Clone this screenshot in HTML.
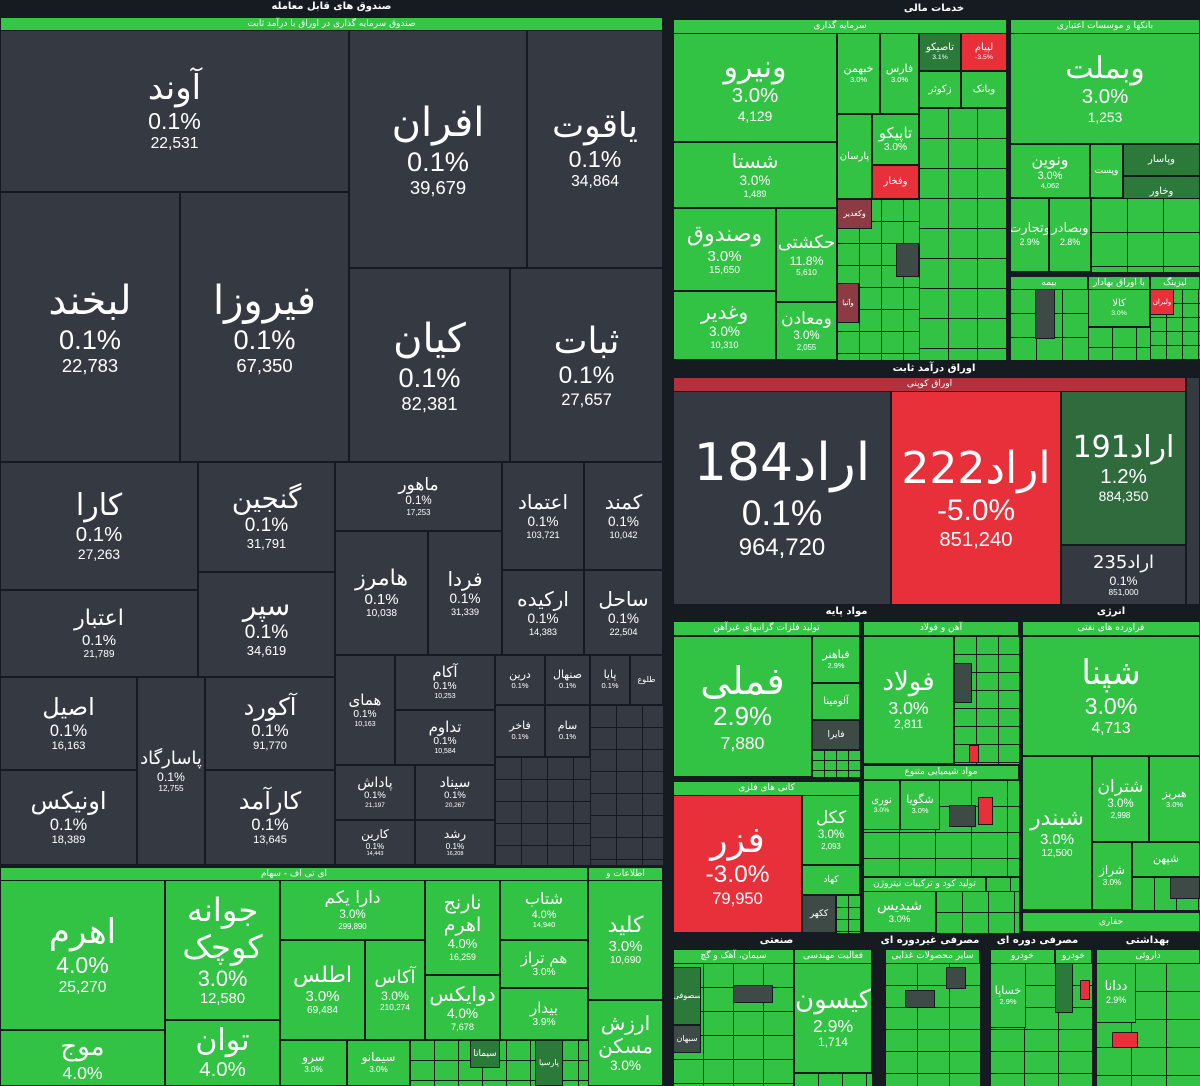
<!DOCTYPE html>
<html><head><meta charset="utf-8">
<style>
body{margin:0;background:#161b22;width:1200px;height:1086px;overflow:hidden;position:relative;font-family:"Liberation Sans","Noto Sans CJK SC",sans-serif}
.t{position:absolute;box-sizing:border-box;border:1px solid #151a21;display:flex;flex-direction:column;align-items:center;justify-content:center;color:#fff;text-align:center;line-height:1.15;overflow:hidden}
.d{background:#353a42}.g{background:#33c344}.r{background:#e8303a}.dg{background:#2b7a3a}.dd{background:#3d4a45}.rd{background:#8c3a44}
b{font-weight:normal;font-size:1em;font-family:"DejaVu Sans","Noto Sans CJK SC",sans-serif}
i{font-style:normal;font-size:.68em}
s{text-decoration:none;font-size:.46em}
.h{position:absolute;color:#fff;font-size:10px;text-align:center;line-height:14px;font-family:"DejaVu Sans",sans-serif;font-weight:bold}
.sb{position:absolute;background:#35c547;color:#fff;font-size:9px;text-align:center;line-height:13px;font-family:"DejaVu Sans",sans-serif;box-sizing:border-box;border:1px solid #151a21}
.grid{position:absolute;box-sizing:border-box;background-color:#33c344;background-image:linear-gradient(#151a21 1px,transparent 1px),linear-gradient(90deg,#151a21 1px,transparent 1px);background-size:24px 20px}
.gridd{position:absolute;box-sizing:border-box;background-color:#353a42;background-image:linear-gradient(#151a21 1px,transparent 1px),linear-gradient(90deg,#151a21 1px,transparent 1px);background-size:26px 22px}
</style></head><body>

<!-- LEFT ETF PANEL -->
<div class="h" style="left:0;top:0;width:663px">صندوق های قابل معامله</div>
<div class="sb" style="left:0;top:17px;width:663px">صندوق سرمایه گذاری در اوراق با درآمد ثابت</div>

<div class="t d" style="left:0;top:30px;width:349px;height:162px;font-size:34px"><b>آوند</b><i>0.1%</i><s>22,531</s></div>
<div class="t d" style="left:349px;top:30px;width:178px;height:238px;font-size:40px"><b>افران</b><i>0.1%</i><s>39,679</s></div>
<div class="t d" style="left:527px;top:30px;width:136px;height:238px;font-size:34px"><b>یاقوت</b><i>0.1%</i><s>34,864</s></div>
<div class="t d" style="left:0;top:192px;width:180px;height:270px;font-size:40px"><b>لبخند</b><i>0.1%</i><s>22,783</s></div>
<div class="t d" style="left:180px;top:192px;width:169px;height:270px;font-size:40px"><b>فیروزا</b><i>0.1%</i><s>67,350</s></div>
<div class="t d" style="left:349px;top:268px;width:161px;height:194px;font-size:40px"><b>کیان</b><i>0.1%</i><s>82,381</s></div>
<div class="t d" style="left:510px;top:268px;width:153px;height:194px;font-size:36px"><b>ثبات</b><i>0.1%</i><s>27,657</s></div>

<div class="t d" style="left:0;top:462px;width:198px;height:128px;font-size:30px"><b>کارا</b><i>0.1%</i><s>27,263</s></div>
<div class="t d" style="left:0;top:590px;width:198px;height:87px;font-size:22px"><b>اعتبار</b><i>0.1%</i><s>21,789</s></div>
<div class="t d" style="left:198px;top:462px;width:137px;height:110px;font-size:28px"><b>گنجین</b><i>0.1%</i><s>31,791</s></div>
<div class="t d" style="left:198px;top:572px;width:137px;height:105px;font-size:28px"><b>سپر</b><i>0.1%</i><s>34,619</s></div>
<div class="t d" style="left:335px;top:462px;width:167px;height:69px;font-size:17px"><b>ماهور</b><i>0.1%</i><s>17,253</s></div>
<div class="t d" style="left:502px;top:462px;width:82px;height:108px;font-size:20px"><b>اعتماد</b><i>0.1%</i><s>103,721</s></div>
<div class="t d" style="left:584px;top:462px;width:79px;height:108px;font-size:20px"><b>کمند</b><i>0.1%</i><s>10,042</s></div>
<div class="t d" style="left:335px;top:531px;width:93px;height:124px;font-size:22px"><b>هامرز</b><i>0.1%</i><s>10,038</s></div>
<div class="t d" style="left:428px;top:531px;width:74px;height:124px;font-size:20px"><b>فردا</b><i>0.1%</i><s>31,339</s></div>
<div class="t d" style="left:502px;top:570px;width:82px;height:85px;font-size:20px"><b>ارکیده</b><i>0.1%</i><s>14,383</s></div>
<div class="t d" style="left:584px;top:570px;width:79px;height:85px;font-size:20px"><b>ساحل</b><i>0.1%</i><s>22,504</s></div>

<div class="t d" style="left:0;top:677px;width:137px;height:93px;font-size:24px"><b>اصیل</b><i>0.1%</i><s>16,163</s></div>
<div class="t d" style="left:0;top:770px;width:137px;height:95px;font-size:24px"><b>اونیکس</b><i>0.1%</i><s>18,389</s></div>
<div class="t d" style="left:137px;top:677px;width:68px;height:188px;font-size:18px"><b>پاسارگاد</b><i>0.1%</i><s>12,755</s></div>
<div class="t d" style="left:205px;top:677px;width:130px;height:93px;font-size:24px"><b>آکورد</b><i>0.1%</i><s>91,770</s></div>
<div class="t d" style="left:205px;top:770px;width:130px;height:95px;font-size:24px"><b>کارآمد</b><i>0.1%</i><s>13,645</s></div>
<div class="t d" style="left:335px;top:655px;width:60px;height:110px;font-size:15px"><b>همای</b><i>0.1%</i><s>10,163</s></div>
<div class="t d" style="left:395px;top:655px;width:100px;height:55px;font-size:15px"><b>آکام</b><i>0.1%</i><s>10,253</s></div>
<div class="t d" style="left:395px;top:710px;width:100px;height:55px;font-size:15px"><b>تداوم</b><i>0.1%</i><s>10,584</s></div>
<div class="t d" style="left:335px;top:765px;width:80px;height:55px;font-size:14px"><b>پاداش</b><i>0.1%</i><s>21,197</s></div>
<div class="t d" style="left:415px;top:765px;width:80px;height:55px;font-size:14px"><b>سیناد</b><i>0.1%</i><s>20,267</s></div>
<div class="t d" style="left:335px;top:820px;width:80px;height:45px;font-size:12px"><b>کارین</b><i>0.1%</i><s>14,443</s></div>
<div class="t d" style="left:415px;top:820px;width:80px;height:45px;font-size:12px"><b>رشد</b><i>0.1%</i><s>16,208</s></div>
<div class="t d" style="left:495px;top:655px;width:50px;height:50px;font-size:11px"><b>درین</b><i>0.1%</i></div>
<div class="t d" style="left:545px;top:655px;width:45px;height:50px;font-size:11px"><b>صنهال</b><i>0.1%</i></div>
<div class="t d" style="left:590px;top:655px;width:40px;height:50px;font-size:11px"><b>پایا</b><i>0.1%</i></div>
<div class="t d" style="left:630px;top:655px;width:33px;height:50px;font-size:8px"><b>طلوع</b></div>
<div class="t d" style="left:495px;top:705px;width:50px;height:52px;font-size:11px"><b>فاخر</b><i>0.1%</i></div>
<div class="t d" style="left:545px;top:705px;width:45px;height:52px;font-size:11px"><b>سام</b><i>0.1%</i></div>
<div class="gridd" style="left:590px;top:705px;width:73px;height:160px"></div>
<div class="gridd" style="left:495px;top:757px;width:95px;height:108px"></div>

<!-- LEFT BOTTOM GREEN -->
<div class="sb" style="left:0;top:867px;width:588px">ای تی اف - سهام</div>
<div class="sb" style="left:588px;top:867px;width:75px">اطلاعات و ارتباطات</div>
<div class="t g" style="left:0;top:880px;width:165px;height:150px;font-size:34px"><b>اهرم</b><i>4.0%</i><s>25,270</s></div>
<div class="t g" style="left:0;top:1030px;width:165px;height:56px;font-size:26px"><b>موج</b><i>4.0%</i></div>
<div class="t g" style="left:165px;top:880px;width:115px;height:140px;font-size:32px"><b>جوانه<br>کوچک</b><i>3.0%</i><s>12,580</s></div>
<div class="t g" style="left:165px;top:1020px;width:115px;height:66px;font-size:30px"><b>توان</b><i>4.0%</i></div>
<div class="t g" style="left:280px;top:880px;width:145px;height:60px;font-size:17px"><b>دارا یکم</b><i>3.0%</i><s>299,890</s></div>
<div class="t g" style="left:280px;top:940px;width:85px;height:100px;font-size:22px"><b>اطلس</b><i>3.0%</i><s>69,484</s></div>
<div class="t g" style="left:365px;top:940px;width:60px;height:100px;font-size:18px"><b>آکاس</b><i>3.0%</i><s>210,274</s></div>
<div class="t g" style="left:425px;top:880px;width:75px;height:95px;font-size:19px"><b>نارنج<br>اهرم</b><i>4.0%</i><s>16,259</s></div>
<div class="t g" style="left:425px;top:975px;width:75px;height:65px;font-size:20px"><b>دوایکس</b><i>4.0%</i><s>7,678</s></div>
<div class="t g" style="left:500px;top:880px;width:88px;height:60px;font-size:16px"><b>شتاب</b><i>4.0%</i><s>14,940</s></div>
<div class="t g" style="left:500px;top:940px;width:88px;height:48px;font-size:15px"><b>هم تراز</b><i>3.0%</i></div>
<div class="t g" style="left:500px;top:988px;width:88px;height:52px;font-size:15px"><b>بیدار</b><i>3.9%</i></div>
<div class="t g" style="left:280px;top:1040px;width:67px;height:46px;font-size:12px"><b>سرو</b><i>3.0%</i></div>
<div class="t g" style="left:347px;top:1040px;width:63px;height:46px;font-size:12px"><b>سیمانو</b><i>3.0%</i></div>
<div class="grid" style="left:410px;top:1040px;width:178px;height:46px"></div>
<div class="t dg" style="left:470px;top:1040px;width:30px;height:28px;font-size:9px"><b>سیماتا</b></div>
<div class="t dg" style="left:535px;top:1040px;width:28px;height:46px;font-size:8px"><b>پارسیا</b></div>
<div class="t g" style="left:588px;top:880px;width:75px;height:120px;font-size:22px"><b>کلید</b><i>3.0%</i><s>10,690</s></div>
<div class="t g" style="left:588px;top:1000px;width:75px;height:86px;font-size:20px"><b>ارزش<br>مسکن</b><i>3.0%</i></div>

<!-- RIGHT TOP: FINANCIAL -->
<div class="h" style="left:668px;top:2px;width:532px">خدمات مالی</div>
<div class="sb" style="left:673px;top:19px;width:334px">سرمایه گذاری</div>
<div class="sb" style="left:1010px;top:19px;width:190px">بانکها و موسسات اعتباری</div>
<div class="t g" style="left:673px;top:33px;width:164px;height:109px;font-size:30px"><b>ونیرو</b><i>3.0%</i><s>4,129</s></div>
<div class="t g" style="left:673px;top:142px;width:164px;height:66px;font-size:20px"><b>شستا</b><i>3.0%</i><s>1,489</s></div>
<div class="t g" style="left:673px;top:208px;width:103px;height:83px;font-size:22px"><b>وصندوق</b><i>3.0%</i><s>15,650</s></div>
<div class="t g" style="left:776px;top:208px;width:61px;height:94px;font-size:18px"><b>حکشتی</b><i>11.8%</i><s>5,610</s></div>
<div class="t g" style="left:673px;top:291px;width:103px;height:69px;font-size:20px"><b>وغدیر</b><i>3.0%</i><s>10,310</s></div>
<div class="t g" style="left:776px;top:302px;width:61px;height:58px;font-size:17px"><b>ومعادن</b><i>3.0%</i><s>2,055</s></div>
<div class="t g" style="left:837px;top:33px;width:43px;height:81px;font-size:11px"><b>خبهمن</b><i>3.0%</i></div>
<div class="t g" style="left:880px;top:33px;width:39px;height:81px;font-size:11px"><b>فارس</b><i>3.0%</i></div>
<div class="t dg" style="left:919px;top:33px;width:42px;height:38px;font-size:10px"><b>تاصیکو</b><i>3.1%</i></div>
<div class="t r" style="left:961px;top:33px;width:46px;height:38px;font-size:10px"><b>لپیام</b><i>-3.5%</i></div>
<div class="t g" style="left:919px;top:71px;width:42px;height:37px;font-size:10px"><b>زکوثر</b></div>
<div class="t g" style="left:961px;top:71px;width:46px;height:37px;font-size:10px"><b>وبانک</b></div>
<div class="t g" style="left:837px;top:114px;width:35px;height:85px;font-size:10px"><b>پارسان</b></div>
<div class="t g" style="left:872px;top:114px;width:47px;height:51px;font-size:15px"><b>تاپیکو</b><i>3.0%</i></div>
<div class="t r" style="left:872px;top:165px;width:47px;height:34px;font-size:10px"><b>وفخار</b></div>
<div class="grid" style="left:919px;top:108px;width:88px;height:252px;background-size:29px 30px"></div>
<div class="grid" style="left:837px;top:199px;width:82px;height:161px;background-size:22px 22px"></div>
<div class="t rd" style="left:837px;top:199px;width:35px;height:30px;font-size:8px"><b>وکغدیر</b></div>
<div class="t rd" style="left:837px;top:283px;width:22px;height:40px;font-size:7px"><b>وآتیا</b></div>
<div class="t dd" style="left:896px;top:243px;width:23px;height:34px"></div>

<div class="t g" style="left:1010px;top:33px;width:190px;height:111px;font-size:30px"><b>وبملت</b><i>3.0%</i><s>1,253</s></div>
<div class="t g" style="left:1010px;top:144px;width:80px;height:54px;font-size:16px"><b>ونوین</b><i>3.0%</i><s>4,062</s></div>
<div class="t g" style="left:1090px;top:144px;width:33px;height:54px;font-size:9px"><b>وپست</b></div>
<div class="t dg" style="left:1123px;top:144px;width:77px;height:32px;font-size:10px"><b>وپاسار</b></div>
<div class="t dg" style="left:1123px;top:176px;width:77px;height:32px;font-size:10px"><b>وخاور</b></div>
<div class="t g" style="left:1010px;top:198px;width:39px;height:74px;font-size:13px"><b>وتجارت</b><i>2.9%</i></div>
<div class="t g" style="left:1049px;top:198px;width:42px;height:74px;font-size:13px"><b>وبصادر</b><i>2.8%</i></div>
<div class="grid" style="left:1091px;top:198px;width:109px;height:74px;background-size:36px 34px"></div>
<div class="sb" style="left:1010px;top:276px;width:78px">بیمه</div>
<div class="grid" style="left:1010px;top:289px;width:78px;height:71px;background-size:26px 24px"></div>
<div class="t dd" style="left:1035px;top:289px;width:20px;height:50px"></div>
<div class="sb" style="left:1088px;top:276px;width:62px">با اوراق بهادار</div>
<div class="t g" style="left:1088px;top:289px;width:62px;height:38px;font-size:10px"><b>کالا</b><i>3.0%</i></div>
<div class="grid" style="left:1088px;top:327px;width:62px;height:33px"></div>
<div class="sb" style="left:1150px;top:276px;width:50px">لیزینگ</div>
<div class="grid" style="left:1150px;top:289px;width:50px;height:71px;background-size:16px 14px"></div>
<div class="t r" style="left:1150px;top:289px;width:24px;height:26px;font-size:7px"><b>ولبران</b></div>

<!-- FIXED INCOME -->
<div class="h" style="left:668px;top:362px;width:532px">اوراق درآمد ثابت</div>
<div class="sb" style="left:673px;top:377px;width:513px;background:#b2313a">اوراق کوپنی</div>
<div class="t d" style="left:673px;top:391px;width:218px;height:214px;font-size:52px"><b>اراد184</b><i>0.1%</i><s>964,720</s></div>
<div class="t r" style="left:891px;top:391px;width:170px;height:214px;font-size:44px"><b>اراد222</b><i>-5.0%</i><s>851,240</s></div>
<div class="t dg" style="left:1061px;top:391px;width:125px;height:154px;font-size:30px;background:#2f6b3c"><b>اراد191</b><i>1.2%</i><s>884,350</s></div>
<div class="t d" style="left:1061px;top:545px;width:125px;height:60px;font-size:18px"><b>اراد235</b><i>0.1%</i><s>851,000</s></div>
<div class="t d" style="left:1186px;top:377px;width:14px;height:228px"></div>

<!-- BASIC MATERIALS -->
<div class="h" style="left:673px;top:605px;width:347px">مواد پایه</div>
<div class="sb" style="left:673px;top:621px;width:187px">تولید فلزات گرانبهای غیرآهن</div>
<div class="t g" style="left:673px;top:636px;width:139px;height:141px;font-size:38px"><b>فملی</b><i>2.9%</i><s>7,880</s></div>
<div class="t g" style="left:812px;top:636px;width:48px;height:47px;font-size:11px"><b>فباهنر</b><i>2.9%</i></div>
<div class="t g" style="left:812px;top:683px;width:48px;height:37px;font-size:10px"><b>آلومینا</b></div>
<div class="t dd" style="left:812px;top:720px;width:48px;height:30px;font-size:9px"><b>فایرا</b></div>
<div class="grid" style="left:812px;top:750px;width:48px;height:27px;background-size:12px 10px"></div>
<div class="sb" style="left:863px;top:621px;width:156px">آهن و فولاد</div>
<div class="t g" style="left:863px;top:636px;width:91px;height:128px;font-size:26px"><b>فولاد</b><i>3.0%</i><s>2,811</s></div>
<div class="grid" style="left:954px;top:636px;width:65px;height:128px;background-size:22px 18px"></div>
<div class="t dd" style="left:954px;top:663px;width:18px;height:40px"></div>
<div class="t r" style="left:969px;top:745px;width:10px;height:18px"></div>
<div class="sb" style="left:863px;top:765px;width:156px">مواد شیمیایی متنوع</div>
<div class="grid" style="left:863px;top:780px;width:156px;height:96px;background-size:36px 26px"></div>
<div class="t g" style="left:863px;top:780px;width:37px;height:50px;font-size:10px"><b>نوری</b><i>3.0%</i></div>
<div class="t g" style="left:900px;top:780px;width:40px;height:50px;font-size:11px"><b>شگویا</b><i>3.0%</i></div>
<div class="t r" style="left:978px;top:797px;width:15px;height:28px"></div>
<div class="t dd" style="left:949px;top:805px;width:27px;height:22px"></div>
<div class="sb" style="left:863px;top:877px;width:123px">تولید کود و ترکیبات نیتروژن</div>
<div class="t g" style="left:863px;top:891px;width:73px;height:42px;font-size:14px"><b>شیدیس</b><i>3.0%</i></div>
<div class="grid" style="left:936px;top:891px;width:83px;height:42px;background-size:26px 21px"></div>
<div class="grid" style="left:986px;top:877px;width:33px;height:14px"></div>
<div class="sb" style="left:673px;top:781px;width:187px">کانی های فلزی</div>
<div class="t r" style="left:673px;top:795px;width:129px;height:138px;font-size:36px"><b>فزر</b><i>-3.0%</i><s>79,950</s></div>
<div class="t g" style="left:802px;top:795px;width:58px;height:70px;font-size:17px"><b>ککل</b><i>3.0%</i><s>2,093</s></div>
<div class="t g" style="left:802px;top:865px;width:58px;height:30px;font-size:9px"><b>کهاد</b></div>
<div class="t dd" style="left:802px;top:895px;width:34px;height:38px;font-size:9px"><b>ککهر</b></div>
<div class="grid" style="left:836px;top:895px;width:24px;height:38px;background-size:12px 12px"></div>

<!-- ENERGY -->
<div class="h" style="left:1022px;top:605px;width:178px">انرژی</div>
<div class="sb" style="left:1022px;top:621px;width:178px">فراورده های نفتی</div>
<div class="t g" style="left:1022px;top:636px;width:178px;height:120px;font-size:34px"><b>شپنا</b><i>3.0%</i><s>4,713</s></div>
<div class="t g" style="left:1022px;top:756px;width:70px;height:154px;font-size:22px"><b>شبندر</b><i>3.0%</i><s>12,500</s></div>
<div class="t g" style="left:1092px;top:756px;width:57px;height:86px;font-size:17px"><b>شتران</b><i>3.0%</i><s>2,998</s></div>
<div class="t g" style="left:1149px;top:756px;width:51px;height:86px;font-size:11px"><b>هبریز</b><i>3.0%</i></div>
<div class="t g" style="left:1092px;top:842px;width:40px;height:68px;font-size:12px"><b>شراز</b><i>3.0%</i></div>
<div class="t g" style="left:1132px;top:842px;width:68px;height:35px;font-size:11px"><b>شپهن</b></div>
<div class="grid" style="left:1132px;top:877px;width:68px;height:33px;background-size:22px 33px"></div>
<div class="t dd" style="left:1170px;top:877px;width:30px;height:22px"></div>
<div class="sb" style="left:1022px;top:912px;width:178px;height:20px;line-height:18px">حفاری</div>

<!-- BOTTOM RIGHT -->
<div class="h" style="left:673px;top:934px;width:207px">صنعتی</div>
<div class="h" style="left:880px;top:934px;width:100px">مصرفی غیردوره ای</div>
<div class="h" style="left:985px;top:934px;width:105px">مصرفی دوره ای</div>
<div class="h" style="left:1095px;top:934px;width:105px">بهداشتی</div>
<div class="sb" style="left:673px;top:949px;width:121px">سیمان، آهک و گچ</div>
<div class="grid" style="left:673px;top:963px;width:121px;height:123px;background-size:30px 24px"></div>
<div class="t dg" style="left:673px;top:967px;width:28px;height:58px;font-size:8px"><b>سصوفی</b></div>
<div class="t dd" style="left:673px;top:1025px;width:28px;height:28px;font-size:8px"><b>سبهان</b></div>
<div class="t dd" style="left:733px;top:985px;width:40px;height:18px"></div>
<div class="sb" style="left:794px;top:949px;width:78px">فعالیت مهندسی</div>
<div class="t g" style="left:794px;top:963px;width:78px;height:110px;font-size:26px"><b>کیسون</b><i>2.9%</i><s>1,714</s></div>
<div class="grid" style="left:794px;top:1073px;width:78px;height:13px"></div>
<div class="sb" style="left:885px;top:949px;width:95px">سایر محصولات غذایی</div>
<div class="grid" style="left:885px;top:963px;width:95px;height:123px;background-size:32px 22px"></div>
<div class="t dd" style="left:946px;top:967px;width:20px;height:22px"></div>
<div class="t dd" style="left:905px;top:990px;width:30px;height:18px"></div>
<div class="sb" style="left:990px;top:949px;width:65px">خودرو</div>
<div class="sb" style="left:1055px;top:949px;width:37px">خودرو</div>
<div class="grid" style="left:990px;top:963px;width:102px;height:123px;background-size:34px 22px"></div>
<div class="t g" style="left:990px;top:963px;width:36px;height:65px;font-size:11px"><b>خساپا</b><i>2.9%</i></div>
<div class="t r" style="left:1080px;top:980px;width:10px;height:20px"></div>
<div class="t dg" style="left:1055px;top:963px;width:18px;height:50px"></div>
<div class="sb" style="left:1096px;top:949px;width:104px">داروئی</div>
<div class="grid" style="left:1096px;top:963px;width:104px;height:123px;background-size:35px 28px"></div>
<div class="t g" style="left:1096px;top:963px;width:40px;height:60px;font-size:13px"><b>ددانا</b><i>2.9%</i></div>
<div class="t r" style="left:1112px;top:1032px;width:26px;height:16px"></div>

</body></html>
